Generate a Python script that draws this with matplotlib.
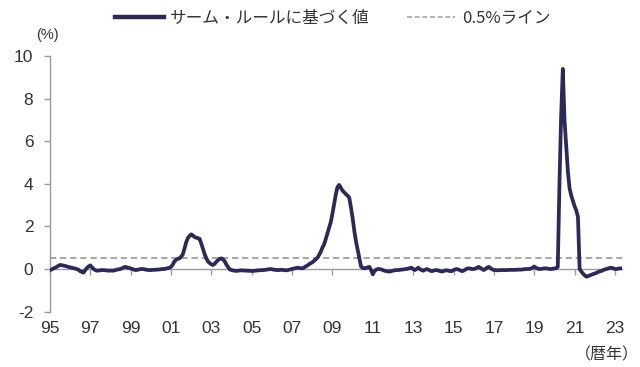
import numpy as np
import matplotlib
matplotlib.use("Agg")
import matplotlib.pyplot as plt
from matplotlib.lines import Line2D

plt.rcParams['font.family'] = ['Liberation Sans', 'Noto Sans CJK JP', 'DejaVu Sans']

# Monthly Sahm-rule reading (%), January 1995 onward
sahm_1995_2000 = [
    -0.05, -0.02, 0.02, 0.06, 0.10, 0.15, 0.19, 0.18, 0.16, 0.15, 0.12, 0.10,   # 1995
    0.08, 0.06, 0.04, 0.02, 0.00, -0.04, -0.10, -0.14, -0.17, -0.05, 0.05, 0.12,  # 1996
    0.17, 0.08, 0.00, -0.05, -0.08, -0.07, -0.06, -0.05, -0.05, -0.06, -0.07, -0.08,  # 1997
    -0.07, -0.08, -0.07, -0.05, -0.03, -0.01, 0.00, 0.04, 0.08, 0.10, 0.07, 0.05,  # 1998
    0.03, 0.00, -0.03, -0.05, -0.04, -0.02, 0.00, 0.00, -0.01, -0.03, -0.04, -0.05,  # 1999
    -0.05, -0.04, -0.04, -0.03, -0.03, -0.02, -0.01, 0.00, 0.00, 0.02, 0.04, 0.06,  # 2000
]
sahm_2001_2007 = [
    0.10, 0.20, 0.35, 0.43, 0.48, 0.50, 0.58, 0.68, 0.95, 1.25, 1.45, 1.55,  # 2001
    1.63, 1.58, 1.50, 1.47, 1.45, 1.42, 1.20, 0.95, 0.70, 0.50, 0.35, 0.28,  # 2002
    0.22, 0.19, 0.25, 0.34, 0.42, 0.48, 0.50, 0.45, 0.35, 0.20, 0.08, -0.02,  # 2003
    -0.05, -0.07, -0.08, -0.09, -0.08, -0.07, -0.06, -0.07, -0.07, -0.08, -0.08, -0.09,  # 2004
    -0.09, -0.09, -0.08, -0.07, -0.06, -0.06, -0.05, -0.05, -0.04, -0.03, -0.01, 0.00,  # 2005
    -0.01, -0.03, -0.04, -0.05, -0.05, -0.04, -0.04, -0.05, -0.06, -0.06, -0.04, -0.02,  # 2006
    0.00, 0.02, 0.04, 0.06, 0.05, 0.04, 0.03, 0.06, 0.12, 0.16, 0.22, 0.27,  # 2007
]
sahm_2008_2012 = [
    0.31, 0.38, 0.45, 0.52, 0.65, 0.80, 1.00, 1.15, 1.40, 1.67, 1.95, 2.20,  # 2008
    2.60, 3.05, 3.50, 3.85, 3.95, 3.82, 3.68, 3.60, 3.52, 3.45, 3.35, 2.90,  # 2009
    2.40, 1.80, 1.30, 0.90, 0.50, 0.12, 0.05, 0.03, 0.05, 0.08, 0.10, -0.05,  # 2010
    -0.25, -0.10, -0.03, 0.00, 0.00, -0.02, -0.05, -0.08, -0.10, -0.11, -0.12, -0.10,  # 2011
    -0.08, -0.06, -0.05, -0.05, -0.04, -0.03, -0.02, -0.01, 0.00, 0.02, 0.04, 0.06,  # 2012
]
sahm_2013_2019 = [
    0.00, -0.05, 0.00, 0.06, 0.00, -0.05, -0.08, -0.04, 0.00, -0.03, -0.07, -0.10,  # 2013
    -0.08, -0.06, -0.05, -0.07, -0.10, -0.12, -0.10, -0.07, -0.06, -0.08, -0.10, -0.10,  # 2014
    -0.05, -0.02, 0.00, -0.03, -0.06, -0.10, -0.08, -0.03, 0.02, 0.03, 0.02, 0.00,  # 2015
    0.00, 0.02, 0.06, 0.10, 0.05, 0.00, -0.05, 0.00, 0.07, 0.10, 0.04, -0.01,  # 2016
    -0.05, -0.05, -0.06, -0.06, -0.05, -0.05, -0.05, -0.05, -0.05, -0.04, -0.04, -0.04,  # 2017
    -0.04, -0.04, -0.03, -0.03, -0.03, -0.02, -0.01, 0.00, 0.00, 0.00, 0.02, 0.06,  # 2018
    0.12, 0.06, 0.02, 0.00, 0.00, 0.02, 0.03, 0.03, 0.02, 0.00, 0.00, 0.01,  # 2019
]
sahm_2020_2023 = [
    0.03, 0.03, 0.10, 4.00, 7.20, 9.40, 7.00, 5.80, 4.60, 3.80, 3.45, 3.20,  # 2020
    2.95, 2.75, 2.45, 0.00, -0.12, -0.22, -0.30, -0.36, -0.34, -0.30, -0.27, -0.24,  # 2021
    -0.21, -0.18, -0.14, -0.11, -0.09, -0.05, -0.02, 0.00, 0.03, 0.05, 0.06, 0.03,  # 2022
    0.00, 0.00, 0.02, 0.03, 0.03,  # 2023 (Jan-May)
]

threshold = 0.5
start_year = 1995
tick_years = list(range(1995, 2024, 2))
tick_labels = [f"{y % 100:02d}" for y in tick_years]
y_ticks = [-2, 0, 2, 4, 6, 8, 10]

values = np.array(sahm_1995_2000 + sahm_2001_2007 + sahm_2008_2012
                  + sahm_2013_2019 + sahm_2020_2023)
months = start_year + np.arange(len(values)) / 12.0

navy = "#2A2959"
grey = "#A6A6A6"
axis_grey = "#9C9C9C"
text_col = "#333333"

fig = plt.figure(figsize=(6.4, 3.67), dpi=100)
ax = fig.add_axes([0.078, 0.151, 0.894, 0.696])

ax.axhline(threshold, color=grey, lw=1.4, ls=(0, (3.2, 2.0)), zorder=2)
ax.plot(months, values, color=navy, lw=2.7, solid_joinstyle="round",
        solid_capstyle="round", zorder=3)

ymin, ymax = -2, 10
ax.set_ylim(ymin, ymax)
ax.set_xlim(start_year, months[-1] + 0.02)

# y axis
ax.set_yticks(y_ticks)
ax.set_yticklabels([str(v) for v in y_ticks])
ax.spines['left'].set_color(axis_grey)
ax.spines['left'].set_linewidth(1.0)
ax.tick_params(axis='y', direction='out', length=4, width=1.0, color=axis_grey,
               labelsize=12.5, labelcolor=text_col, pad=8)

# x labels along the bottom edge; the axis line itself runs through zero
for side in ('top', 'right', 'bottom'):
    ax.spines[side].set_visible(False)
ax.set_xticks(tick_years)
ax.set_xticklabels(tick_labels)
ax.tick_params(axis='x', length=0, labelsize=12.5, labelcolor=text_col, pad=7)

zero_axis = ax.secondary_xaxis((0 - ymin) / (ymax - ymin))
zero_axis.set_xticks(tick_years)
zero_axis.set_xticklabels([])
zero_axis.spines['bottom'].set_color(axis_grey)
zero_axis.spines['bottom'].set_linewidth(1.0)
zero_axis.tick_params(axis='x', direction='out', length=4, width=1.0, color=axis_grey)

fig.text(0.074, 0.905, "(%)", fontsize=10.5, color=text_col,
         family=['Liberation Sans'], ha='center', va='center')
fig.text(0.948, 0.033, "（暦年）", fontsize=11.5, color=text_col,
         family=['Noto Sans CJK JP'], ha='center', va='center')

handles = [
    Line2D([], [], color=navy, lw=3.2),
    Line2D([], [], color=grey, lw=1.2, ls=(0, (3, 1.6))),
]
labels = ["サーム・ルールに基づく値", "0.5%ライン"]
leg = fig.legend(handles, labels, loc='center', bbox_to_anchor=(0.52, 0.951),
                 ncol=2, frameon=False, handlelength=2.9, handletextpad=0.4,
                 columnspacing=2.2, prop={'family': ['Noto Sans CJK JP'], 'size': 12})
for t in leg.get_texts():
    t.set_color(text_col)

fig.savefig("out.png", dpi=100)
